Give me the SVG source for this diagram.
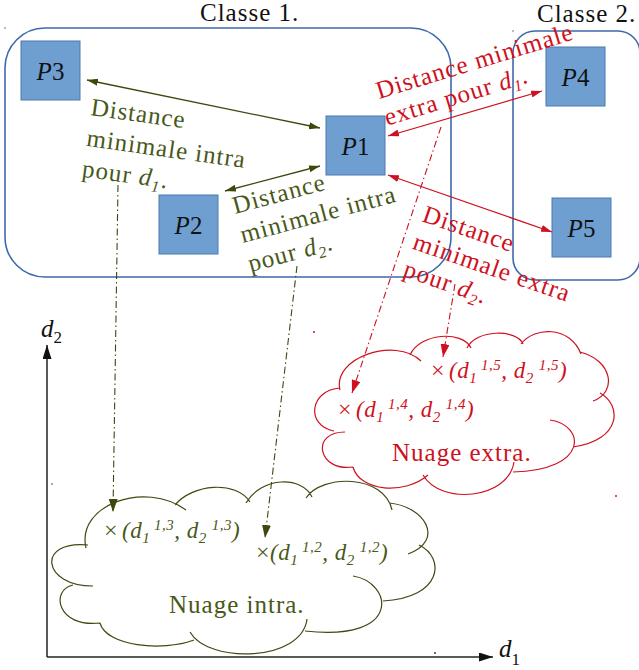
<svg xmlns="http://www.w3.org/2000/svg" width="639" height="670" viewBox="0 0 639 670">
<defs>
<style>
text{font-family:"Liberation Serif","DejaVu Serif",serif}
.t{font-family:"Liberation Serif","DejaVu Serif",serif;font-size:25px;letter-spacing:1px}
.m{font-family:"Liberation Serif","DejaVu Serif",serif;font-size:23px;font-style:italic;letter-spacing:0.5px}
.s{font-size:15px}
.up{font-style:normal;font-size:24px}
.g{fill:#48581a}
.r{fill:#cf1020}
.k{fill:#111}
.box{fill:none;stroke:#3d6aab;stroke-width:1.6}
.nd rect{fill:#6f9fd1;stroke:#4d79b0;stroke-width:1}
.ag{stroke:#3b4a0c;stroke-width:1.3;fill:none}
.ar{stroke:#cf1020;stroke-width:1.3;fill:none}
.dg{stroke:#3b4a0c;stroke-width:1.1;fill:none;stroke-dasharray:7 3 1.5 3}
.dr{stroke:#cf1020;stroke-width:1.1;fill:none;stroke-dasharray:7 3 1.5 3}
.ax{stroke:#222;stroke-width:1.5;fill:none}
.cg{stroke:#3d4a12;stroke-width:1.2;fill:none}
.cr{stroke:#cf1020;stroke-width:1.2;fill:none}
</style>
<marker id="mg" viewBox="0 0 11 7" refX="11" refY="3.5" markerWidth="11" markerHeight="7" markerUnits="userSpaceOnUse" orient="auto-start-reverse"><path d="M0,0 L11,3.5 L0,7 z" fill="#3b4a0c"/></marker>
<marker id="mr" viewBox="0 0 11 7" refX="11" refY="3.5" markerWidth="11" markerHeight="7" markerUnits="userSpaceOnUse" orient="auto-start-reverse"><path d="M0,0 L11,3.5 L0,7 z" fill="#cf1020"/></marker>
<marker id="bg" viewBox="0 0 13 9" refX="13" refY="4.5" markerWidth="13" markerHeight="9" markerUnits="userSpaceOnUse" orient="auto"><path d="M0,0 L13,4.5 L0,9 z" fill="#3b4a0c"/></marker>
<marker id="br" viewBox="0 0 13 9" refX="13" refY="4.5" markerWidth="13" markerHeight="9" markerUnits="userSpaceOnUse" orient="auto"><path d="M0,0 L13,4.5 L0,9 z" fill="#cf1020"/></marker>
<marker id="bk" viewBox="0 0 14 9" refX="14" refY="4.5" markerWidth="14" markerHeight="9" markerUnits="userSpaceOnUse" orient="auto"><path d="M0,0 L14,4.5 L0,9 z" fill="#111"/></marker>
</defs>
<rect width="639" height="670" fill="#fff"/>

<g id="classe1">
<rect class="box" x="5" y="28" width="446" height="249" rx="40"/>
<text class="t k" x="200" y="21">Classe 1.</text>
</g>
<g id="classe2">
<rect class="box" x="513" y="31" width="127" height="249" rx="22"/>
<text class="t k" x="537" y="22">Classe 2.</text>
</g>

<g id="P3" class="nd"><rect x="21" y="41" width="59" height="59"/><text class="t k" x="50.5" y="80" text-anchor="middle" style="letter-spacing:0"><tspan font-style="italic">P</tspan>3</text></g>
<g id="P2" class="nd"><rect x="159" y="195" width="59" height="59"/><text class="t k" x="188.5" y="234" text-anchor="middle" style="letter-spacing:0"><tspan font-style="italic">P</tspan>2</text></g>
<g id="P1" class="nd"><rect x="326" y="116" width="59" height="59"/><text class="t k" x="355.5" y="155" text-anchor="middle" style="letter-spacing:0"><tspan font-style="italic">P</tspan>1</text></g>
<g id="P4" class="nd"><rect x="546" y="47" width="59" height="59"/><text class="t k" x="575.5" y="86" text-anchor="middle" style="letter-spacing:0"><tspan font-style="italic">P</tspan>4</text></g>
<g id="P5" class="nd"><rect x="552" y="198" width="59" height="59"/><text class="t k" x="581.5" y="237" text-anchor="middle" style="letter-spacing:0"><tspan font-style="italic">P</tspan>5</text></g>

<g id="connectors">
<path class="ag" d="M87,80 L320,128" marker-start="url(#mg)" marker-end="url(#mg)"/>
<path class="ag" d="M225,191 L320,166" marker-start="url(#mg)" marker-end="url(#mg)"/>
<path class="ar" d="M388,136 L542,91" marker-start="url(#mr)" marker-end="url(#mr)"/>
<path class="ar" d="M388,175 L552,232" marker-start="url(#mr)" marker-end="url(#mr)"/>
<path class="dg" d="M118,185 L113,512" marker-end="url(#bg)"/>
<path class="dg" d="M297,266 L265,538" marker-end="url(#bg)"/>
<path class="dr" d="M441,127 L352,393" marker-end="url(#br)"/>
<path class="dr" d="M455,284 L443,357" marker-end="url(#br)"/>
<path class="ax" d="M47,657 L47,345" marker-end="url(#bk)"/>
<path class="ax" d="M47,657 L493,657" marker-end="url(#bk)"/>
</g>

<g id="label-intra-d1" transform="translate(90,115) rotate(8)">
<text class="t g" x="0" y="0">Distance</text>
<text class="t g" x="0" y="31">minimale intra</text>
<text class="t g" x="0" y="62">pour <tspan font-style="italic">d</tspan><tspan font-style="italic" font-size="16" dy="5">1</tspan><tspan dy="-5">.</tspan></text>
</g>
<g id="label-intra-d2" transform="translate(235,214) rotate(-15)">
<text class="t g" x="0" y="0">Distance</text>
<text class="t g" x="0" y="30">minimale intra</text>
<text class="t g" x="0" y="60">pour <tspan font-style="italic">d</tspan><tspan font-style="italic" font-size="16" dy="5">2</tspan><tspan dy="-5">.</tspan></text>
</g>
<g id="label-extra-d1" transform="translate(379,99) rotate(-17)">
<text class="t r" x="0" y="0">Distance minimale</text>
<text class="t r" x="0" y="28">extra pour <tspan font-style="italic">d</tspan><tspan font-style="italic" font-size="16" dy="5">1</tspan><tspan dy="-5">.</tspan></text>
</g>
<g id="label-extra-d2" transform="translate(421,221) rotate(19)">
<text class="t r" x="0" y="0">Distance</text>
<text class="t r" x="0" y="29">minimale extra</text>
<text class="t r" x="0" y="58">pour <tspan font-style="italic">d</tspan><tspan font-style="italic" font-size="16" dy="5">2</tspan><tspan dy="-5">.</tspan></text>
</g>

<g id="axes-labels">
<text class="t k" x="41" y="337" style="letter-spacing:0"><tspan font-style="italic">d</tspan><tspan font-size="17" dy="6">2</tspan></text>
<text class="t k" x="499" y="657" style="letter-spacing:0"><tspan font-style="italic">d</tspan><tspan font-size="17" dy="8">1</tspan></text>
</g>

<g id="nuage-intra">
<path class="cg" d="M86,548 C76,505 145,480 186,510 M175,505 C192,484 236,480 250,502 M246,503 C262,476 302,476 312,497 M306,498 C322,474 384,474 392,510 M389,503 C424,506 446,540 408,554 M419,545 C446,558 442,598 383,601 M353,576 C392,582 404,642 305,631 M307,619 C302,662 208,664 190,632 M194,640 C162,652 106,646 100,623 M100,623 C57,628 50,590 73,585 M93,586 C42,586 36,540 88,545"/>
<text class="m g" x="104" y="538"><tspan class="up">×</tspan><tspan dx="4">(d</tspan><tspan class="s" dy="5">1</tspan><tspan class="s" dx="5" dy="-13">1,3</tspan><tspan dy="8">,  d</tspan><tspan class="s" dy="5">2</tspan><tspan class="s" dx="5" dy="-13">1,3</tspan><tspan dy="8">)</tspan></text>
<text class="m g" x="256" y="560"><tspan class="up">×</tspan>(d<tspan class="s" dy="5">1</tspan><tspan class="s" dx="5" dy="-13">1,2</tspan><tspan dy="8">,  d</tspan><tspan class="s" dy="5">2</tspan><tspan class="s" dx="5" dy="-13">1,2</tspan><tspan dy="8">)</tspan></text>
<text class="t g" x="169" y="613">Nuage intra.</text>
</g>

<g id="nuage-extra">
<path class="cr" d="M340,390 C332,358 395,336 421,361 M410,355 C420,333 462,330 471,348 M467,348 C476,329 517,329 523,344 M521,344 C535,326 570,326 581,354 M580,352 C612,360 618,392 593,401 M600,393 C622,405 622,440 573,447 M550,420 C585,425 590,470 513,472 M514,462 C508,500 440,505 423,475 M428,475 C405,495 360,492 353,467 M353,467 C318,472 310,432 345,432 M340,388 C310,390 305,425 334,431"/>
<text class="m r" x="431" y="378"><tspan class="up">×</tspan><tspan dx="4">(d</tspan><tspan class="s" dy="5">1</tspan><tspan class="s" dx="5" dy="-13">1,5</tspan><tspan dy="8">,  d</tspan><tspan class="s" dy="5">2</tspan><tspan class="s" dx="5" dy="-13">1,5</tspan><tspan dy="8">)</tspan></text>
<text class="m r" x="338" y="417"><tspan class="up">×</tspan><tspan dx="4">(d</tspan><tspan class="s" dy="5">1</tspan><tspan class="s" dx="5" dy="-13">1,4</tspan><tspan dy="8">,  d</tspan><tspan class="s" dy="5">2</tspan><tspan class="s" dx="5" dy="-13">1,4</tspan><tspan dy="8">)</tspan></text>
<text class="t r" x="392" y="461">Nuage extra.</text>
</g>

<g id="dots">
<circle cx="5" cy="28" r="0.8" fill="#3d6aab"/>
<circle cx="513" cy="31" r="0.8" fill="#3d6aab"/>
<circle cx="314" cy="332" r="1" fill="#cf1020"/>
<circle cx="616" cy="496" r="1" fill="#cf1020"/>
<circle cx="52" cy="484" r="0.8" fill="#3b4a0c"/>
<circle cx="435" cy="653" r="1" fill="#3b4a0c"/>
</g>
</svg>
